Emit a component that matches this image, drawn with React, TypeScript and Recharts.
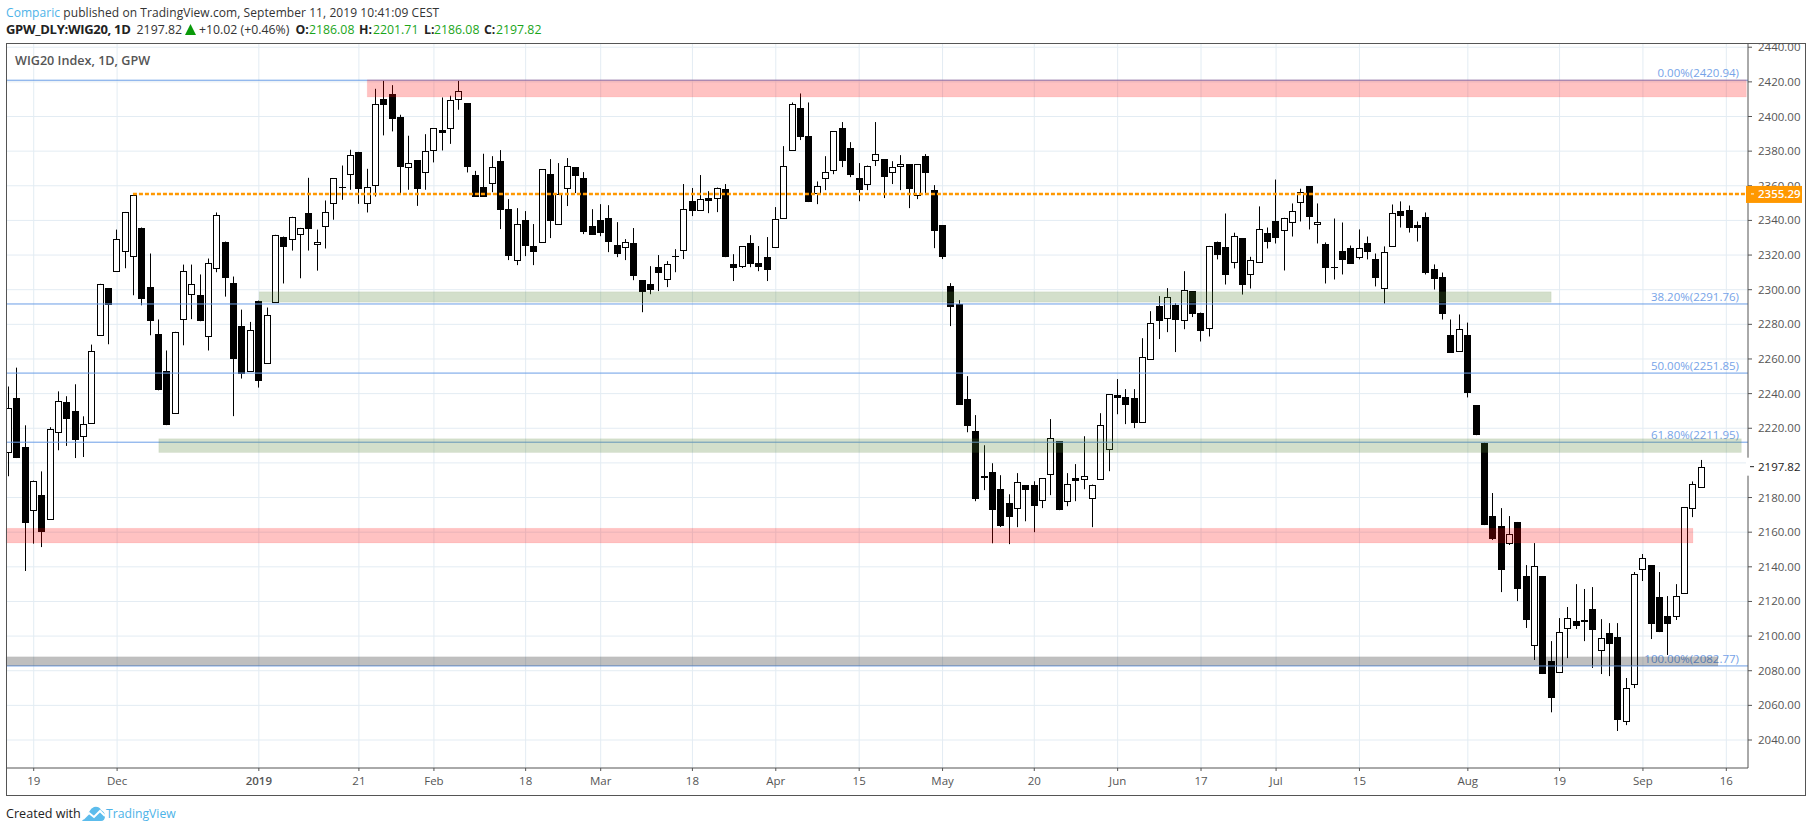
import React from "react";
import { ComposedChart, Bar, XAxis, YAxis, CartesianGrid, ReferenceArea, ReferenceLine } from "recharts";

const opens = [
  2206.3,2237.7,2209,2173,2181.3,2167.8,2217.9,2235,2229.8,2215.7,
  2223.1,2273.9,2300.7,2310.9,2322.4,2319.5,2335.9,2301.3,2274.7,2253.3,
  2228.9,2283.2,2297.6,2297.2,2273.3,2312.6,2327.8,2304.1,2279.3,2252.9,
  2293.7,2257.7,2293,2330.7,2329.4,2332.2,2344,2326.2,2336.7,2350.2,
  2359.5,2366.7,2379.6,2350,2360.4,2410,2412.9,2399.8,2370.6,2374.8,
  2367.9,2380.6,2392.1,2393.3,2410,2407.7,2366.1,2359.2,2361.7,2374.2,
  2346.5,2316.9,2340.2,2325.1,2327.3,2366.7,2338,2358.5,2370.8,2364.4,
  2336.7,2340.2,2341.3,2325.7,2324.8,2326.9,2305.5,2303.2,2313,2305.9,
  2319.4,2323,2351.1,2346.3,2352.9,2352.7,2358.1,2314.8,2313.8,2326.9,
  2315.3,2318.8,2324.8,2341.5,2380.8,2404.9,2388.7,2356,2364.6,2368.9,
  2393.3,2381.8,2364.4,2361.3,2374.6,2375.4,2367.7,2371.2,2372.5,2354.4,
  2377.1,2357.5,2337.3,2302.1,2292,2236.8,2218.3,2192.3,2194.6,2184.8,
  2176.7,2174,2187.1,2187.1,2178.7,2193.7,2212.6,2178.1,2191.2,2190.8,
  2179.8,2190.8,2208.1,2239.1,2237.9,2237.4,2223.7,2260.1,2290.5,2283.8,
  2291.1,2282.6,2299.2,2286.8,2277.8,2327.3,2324.4,2315.9,2329.6,2309,
  2315.9,2333,2339.4,2334.4,2339,2350.6,2359.6,2337.9,2326.1,2313.2,
  2322.6,2323.8,2318.8,2326.7,2318,2300.9,2325.2,2345.7,2346.3,2337.1,
  2341.7,2311.7,2307.6,2274.1,2264.5,2273.6,2233.4,2211.7,2169.3,2163.5,
  2153.5,2165.9,2134.7,2095,2134.7,2085.6,2079,2104.8,2108.7,2109.3,
  2115.6,2092.1,2101.8,2099.5,2051.2,2072.5,2138.5,2141,2122.5,2111.6,
  2111.4,2125,2173.7,2186.08,
];
const highs = [
  2244.1,2255,2221.7,2189.8,2195.1,2220.6,2241.3,2238.5,2245.4,2226.9,
  2268.3,2303.4,2300.7,2334.7,2344.9,2354.8,2335.9,2320.9,2282.8,2264.9,
  2275.7,2314.5,2314.5,2308.8,2318,2344.6,2327.8,2307.6,2288.5,2281.4,
  2293.7,2289.7,2331.7,2330.7,2342.1,2335.7,2364.6,2334.7,2351.5,2364.4,
  2371.7,2380.8,2379.6,2369.8,2416,2420.6,2418.1,2401,2388.9,2374.8,
  2389.8,2393.3,2411,2412,2420.6,2407.7,2368.6,2378.5,2377.1,2380.6,
  2352.3,2347.1,2345.4,2337.9,2369.4,2375.4,2373.1,2376,2370.8,2367.9,
  2346.5,2349.4,2348.8,2339,2329.2,2335.6,2305.5,2313.6,2320,2316.5,
  2323.4,2361,2358.7,2366.2,2356.9,2359,2361,2320.5,2325,2331.5,
  2325.2,2330.4,2347.7,2382.9,2408.1,2413.3,2408.1,2362.5,2377.1,2391.4,
  2396.8,2385.2,2373.1,2371.7,2396.8,2375.4,2374.2,2377.7,2372.5,2372.3,
  2378.3,2360.4,2337.3,2303.8,2294,2250.1,2227.6,2210.2,2199.8,2192.9,
  2181.9,2194.1,2187.1,2189.4,2191,2225.3,2212.6,2194.1,2199.3,2215.4,
  2187.5,2228.7,2239.5,2248.4,2242.6,2242.6,2272,2287.6,2296.3,2300.9,
  2292.2,2310.7,2299.2,2286.8,2325.3,2327.8,2344,2332.9,2329.6,2319,
  2348.1,2335.9,2363.6,2341.5,2349.8,2358.3,2359.6,2349.8,2327.3,2341.1,
  2338.8,2325.5,2334.8,2330.7,2320.9,2325,2349.2,2351,2348.6,2339.4,
  2344.6,2314.6,2309.9,2282.8,2285.7,2281,2233.4,2211.7,2182.6,2173.9,
  2169.3,2165.9,2141,2153.7,2134.7,2097.1,2110.4,2116.8,2130,2127.2,
  2128.3,2109.8,2107.5,2107.5,2075.8,2137,2147.4,2141,2137,2123.1,
  2130,2174.3,2189.3,2201.71,
];
const lows = [
  2192.3,2202.8,2137.6,2153.4,2151.4,2167.8,2207.3,2209.8,2202.8,2203.4,
  2223.1,2273.9,2268.5,2310.9,2312.4,2296.8,2291,2273.7,2241.9,2221.8,
  2228.9,2267.9,2283,2281.8,2264.9,2310.1,2296,2227,2248.7,2252.9,
  2243.5,2257.7,2293,2303.6,2322.6,2306.6,2322.6,2311,2323.8,2340.4,
  2351.9,2357.7,2349.6,2344.6,2353.8,2389.1,2391.4,2355.2,2357.7,2348.4,
  2357.7,2373.5,2380.4,2384.2,2403.9,2367.7,2353.8,2353.8,2356.3,2335,
  2317.1,2314.2,2319.4,2314.2,2327.3,2329.8,2338,2348.3,2355.8,2332.1,
  2331.7,2330.9,2321.7,2318.8,2317.1,2305.5,2287,2297.4,2299.2,2301.5,
  2310.1,2317.7,2342.5,2346.3,2344.2,2344.8,2318.8,2305,2312.5,2313,
  2310.7,2305,2324.8,2341.5,2380.8,2386.4,2350.6,2349.4,2357.5,2366.7,
  2370.8,2365,2351.1,2357.5,2371.4,2352.9,2361,2357.5,2347.1,2352.3,
  2355.2,2324,2317.7,2279,2233.5,2217.7,2177.9,2184.3,2153.6,2163,
  2153.1,2162.9,2166.3,2160,2173.9,2181.4,2172.7,2175,2177.9,2184.8,
  2162.9,2190.8,2195.2,2228.1,2222.4,2220.1,2223.1,2260.1,2271.5,2275.5,
  2264,2277.2,2284.2,2270.1,2273,2317.5,2303,2312.3,2297.2,2300.7,
  2315.9,2323.8,2326.7,2311.1,2330.7,2339.4,2334.8,2326.7,2303.6,2305.9,
  2308.8,2315.1,2317.5,2317.5,2301.9,2292,2325.2,2335.9,2333,2327.8,
  2308.8,2300.1,2282.8,2263.7,2264.5,2237.8,2216,2164.1,2155.5,2125.4,
  2152.6,2120.2,2104.7,2086.2,2078.1,2056,2079,2087.3,2104.1,2097.1,
  2081.6,2078.1,2076.9,2045.2,2048.6,2070,2131.8,2098.3,2102.3,2089.1,
  2109.3,2125,2168.7,2186.08,
];
const closes = [
  2231.9,2202.8,2165.3,2189.8,2160.1,2219.8,2236,2225.4,2213,2222.7,
  2264.7,2303.4,2291,2329.4,2344.9,2354.8,2294.5,2281.8,2241.9,2221.8,
  2275.7,2310.9,2303.4,2281.8,2315.5,2343.2,2306.6,2259.9,2251.2,2276.8,
  2247.2,2285.5,2331.7,2324.9,2342.1,2335.7,2335,2327.6,2344.9,2364.4,
  2359.2,2377.7,2357.9,2359.2,2407.1,2406.4,2398.3,2370.6,2373,2357.9,
  2379.8,2393.3,2390.2,2409.5,2414.7,2371.1,2353.8,2353.8,2370.6,2346.1,
  2319.6,2338.2,2325.4,2321.9,2369.4,2339.8,2355.4,2371.7,2365.8,2333.2,
  2331.7,2332.9,2327.5,2320.5,2327.3,2307.8,2298.6,2299.8,2309.6,2314.8,
  2319.1,2346.5,2345.4,2352.1,2351.3,2359,2318.8,2312.5,2325,2314.8,
  2313,2311.3,2340.6,2371.2,2407.5,2388.3,2350.6,2359.6,2367.7,2391.4,
  2374.4,2366.2,2357.5,2371.7,2378.1,2365,2370.6,2372.3,2358.3,2372.3,
  2367.3,2333.8,2318.8,2289.9,2233.5,2221.4,2179,2191.4,2172.7,2163.5,
  2168.7,2188.7,2184.3,2175,2191,2214.1,2172.7,2188.1,2189.4,2192.7,
  2187.5,2221.6,2239.5,2237.4,2233.3,2222.9,2260.9,2280.5,2281.8,2295.5,
  2282.4,2300.1,2285.9,2276.4,2325.3,2319.8,2308.2,2331.1,2303,2317.3,
  2335.2,2327.3,2329.6,2341.5,2345.6,2356.5,2341.7,2339.2,2312.3,2312.4,
  2316.9,2315.1,2324.2,2321.5,2306.5,2321.9,2344.4,2342.3,2335.9,2335.4,
  2309.9,2305.9,2285.7,2263.7,2277.4,2240.6,2216,2164.1,2156,2138.1,
  2158.7,2127.2,2109.3,2140.3,2078.1,2064.2,2102.1,2110.2,2105.8,2108.1,
  2103.5,2098.7,2095.4,2051.5,2069.8,2135.6,2144.9,2107,2102.3,2107,
  2122.9,2174.3,2187.6,2197.82,
];

const xTickIndexes = [3,13,30,42,51,62,71,82,92,102,112,123,133,143,152,162,175,186,196,206];
const xTickLabels = ["19","Dec","2019","21","Feb","18","Mar","18","Apr","15","May","20","Jun","17","Jul","15","Aug","19","Sep","16"];
const yGridTicks = [2040,2060,2080,2100,2120,2140,2160,2180,2200,2220,2240,2260,2280,2300,2320,2340,2360,2380,2400,2420,2440];
const hiddenYLabel = 2200;
const lastPrice = 2197.82;
const orangePrice = 2355.29;
const fibLevels = [2420.94, 2291.76, 2251.85, 2211.95, 2082.77];
const fibLabels = ["0.00%(2420.94)", "38.20%(2291.76)", "50.00%(2251.85)", "61.80%(2211.95)", "100.00%(2082.77)"];

const rows = opens.map((o, i) => ({ idx: i, open: o, high: highs[i], low: lows[i], close: closes[i] }));

const FONT = "'Open Sans', sans-serif";
const X_MIN = -0.324;
const X_MAX = 208.6;
const Y_MIN = 2023.84;
const Y_MAX = 2441.86;

function Candle(props: any) {
  const { x, y, width, height, payload } = props;
  const { open, high, low, close } = payload;
  const toY = (v: number) => y + ((high - v) / (high - low)) * height;
  const c = Math.round(x + width / 2) - 1;
  const top = Math.round(toY(Math.max(open, close)));
  const bot = Math.round(toY(Math.min(open, close)));
  const up = close > open;
  return (
    <g>
      <rect x={c} y={y} width={1} height={height} fill="#000" />
      {up ? (
        <rect x={c - 2.5} y={top + 0.5} width={6} height={Math.max(bot - top, 1)} fill="#fff" stroke="#000" strokeWidth={1} />
      ) : (
        <rect x={c - 3} y={top} width={7} height={Math.max(bot - top, 1)} fill="#000" />
      )}
    </g>
  );
}

function PriceTick(props: any) {
  const { x, y, payload } = props;
  const v = payload.value;
  if (v === hiddenYLabel) return null;
  if (v === orangePrice) {
    return (
      <g>
        <rect x={x - 8} y={y - 8} width={56} height={17} fill="#ff9800" />
        <line x1={x - 3} x2={x} y1={y} y2={y} stroke="#fff" />
        <text x={x + 4} y={y + 4} fontFamily={FONT} fontSize={11.5} fontWeight={600} fill="#fff">{v.toFixed(2)}</text>
      </g>
    );
  }
  if (v === lastPrice) {
    return (
      <g>
        <rect x={x - 8} y={y - 9} width={7} height={18} fill="#fff" />
        <line x1={x - 4} x2={x} y1={y} y2={y} stroke="#222" />
        <text x={x + 4} y={y + 4} fontFamily={FONT} fontSize={11.5} fill="#222">{v.toFixed(2)}</text>
      </g>
    );
  }
  return <text x={x + 4} y={y + 4} fontFamily={FONT} fontSize={11.5} fill="#555">{v.toFixed(2)}</text>;
}

function DateTick(props: any) {
  const { x, y, payload } = props;
  const label = xTickLabels[xTickIndexes.indexOf(payload.value)];
  return (
    <text x={x} y={y + 12} textAnchor="middle" fontFamily={FONT} fontSize={11.5} fontWeight={label === "2019" ? 600 : 400} fill="#555">
      {label}
    </text>
  );
}

const fibLabel = (text: string) => (p: any) => (
  <text x={p.viewBox.x + p.viewBox.width - 9} y={p.viewBox.y - 3} textAnchor="end" fontFamily={FONT} fontSize={11.5} fill="#76a3e8">{text}</text>
);

const lineStyle: React.CSSProperties = { position: "absolute", whiteSpace: "nowrap", fontFamily: FONT };
const row2 = (left: number, color: string, bold: boolean, text: string) => (
  <div style={{ ...lineStyle, left, top: 21, fontSize: 12.3, color, fontWeight: bold ? 700 : 400 }}>{text}</div>
);

export default function App() {
  return (
    <div style={{ position: "absolute", left: 0, top: 0, width: 1812, height: 832, background: "#fff", overflow: "hidden" }}>
      <div style={{ ...lineStyle, left: 6, top: 4, fontSize: 12, letterSpacing: 0.07, color: "#333" }}>
        <span style={{ color: "#4db3e8" }}>Comparic</span> published on TradingView.com, September 11, 2019 10:41:09 CEST
      </div>
      <div style={{ ...lineStyle, left: 6, top: 20, fontSize: 13, letterSpacing: -0.3, fontWeight: 700, color: "#222" }}>GPW_DLY:WIG20, 1D</div>
      {row2(136.6, "#333", false, "2197.82")}
      <svg style={{ position: "absolute", left: 185, top: 24 }} width={11} height={11}>
        <polygon points="5.5,0 11,11 0,11" fill="#0a9a0a" />
      </svg>
      {row2(199, "#333", false, "+10.02 (+0.46%)")}
      {row2(295.4, "#222", true, "O:")}
      {row2(309, "#1aa51a", false, "2186.08")}
      {row2(359, "#222", true, "H:")}
      {row2(373, "#1aa51a", false, "2201.71")}
      {row2(424, "#222", true, "L:")}
      {row2(434, "#1aa51a", false, "2186.08")}
      {row2(484, "#222", true, "C:")}
      {row2(496, "#1aa51a", false, "2197.82")}

      <ComposedChart
        width={1812}
        height={832}
        data={rows}
        margin={{ left: 6, top: 44, right: 7, bottom: 37 }}
        style={{ position: "absolute", left: 0, top: 0 }}
      >
        <CartesianGrid stroke="#e3ecf3" strokeWidth={1} horizontalValues={yGridTicks} verticalValues={xTickIndexes} />
        <XAxis
          dataKey="idx"
          type="number"
          domain={[X_MIN, X_MAX]}
          allowDataOverflow
          ticks={xTickIndexes}
          interval={0}
          height={27}
          tickSize={3}
          tick={<DateTick />}
          stroke="#555"
        />
        <YAxis
          orientation="right"
          type="number"
          domain={[Y_MIN, Y_MAX]}
          allowDataOverflow
          ticks={[...yGridTicks, lastPrice, orangePrice]}
          interval={0}
          width={57}
          tickSize={4}
          stroke="#555"
          tick={<PriceTick />}
        />
        {fibLevels.map((v, i) => (
          <ReferenceLine key={v} y={v} stroke="#6a9de6" strokeWidth={1} label={{ content: fibLabel(fibLabels[i]) }} />
        ))}
        <Bar dataKey={(d: any) => [d.low, d.high]} barSize={1} shape={<Candle />} isAnimationActive={false} />
        <ReferenceArea x1={43} x2={208.4} y1={2411.2} y2={2421.2} fill="#ff0000" fillOpacity={0.24} stroke="#ff0000" strokeOpacity={0.06} ifOverflow="visible" zIndex={500} />
        <ReferenceArea x1={X_MIN} x2={202} y1={2153.8} y2={2162.2} fill="#ff0000" fillOpacity={0.24} stroke="#ff0000" strokeOpacity={0.06} ifOverflow="visible" zIndex={500} />
        <ReferenceArea x1={30.05} x2={185} y1={2292.8} y2={2298.8} fill="#4f7f2f" fillOpacity={0.25} stroke="#4f7f2f" strokeOpacity={0.06} ifOverflow="visible" zIndex={500} />
        <ReferenceArea x1={18} x2={207.8} y1={2206} y2={2214} fill="#4f7f2f" fillOpacity={0.25} stroke="#4f7f2f" strokeOpacity={0.06} ifOverflow="visible" zIndex={500} />
        <ReferenceArea x1={X_MIN} x2={205} y1={2082.9} y2={2088.1} fill="#000000" fillOpacity={0.25} stroke="#000000" strokeOpacity={0.03} ifOverflow="visible" zIndex={500} />
        <ReferenceLine
          stroke="#ff9800"
          strokeWidth={2.4}
          strokeDasharray="4 2"
          segment={[{ x: 14.9, y: orangePrice }, { x: 208.4, y: orangePrice }]}
          zIndex={600}
        />
      </ComposedChart>

      <div style={{ position: "absolute", left: 6, top: 43, width: 1798, height: 751, border: "1px solid #555", pointerEvents: "none" }} />
      <div style={{ ...lineStyle, left: 15, top: 52, fontSize: 12.6, fontWeight: 600, color: "#555" }}>WIG20 Index, 1D, GPW</div>

      <div style={{ ...lineStyle, left: 6, top: 805, fontSize: 12.6, color: "#222" }}>Created with</div>
      <svg style={{ position: "absolute", left: 82, top: 806 }} width={24} height={16} viewBox="0 0 24 16">
        <path d="M0 15 L7 6 Q9 2 12 1 Q17 0 19 4 Q23 6 23 10 Q23 15 19 15 Z" fill="#5cbcec" />
        <path d="M1 13 L7 7 L12 11 L18 5 L23 10" fill="none" stroke="#fff" strokeWidth={2} />
      </svg>
      <div style={{ ...lineStyle, left: 106, top: 805, fontSize: 12.2, color: "#4db3e8" }}>TradingView</div>
    </div>
  );
}
